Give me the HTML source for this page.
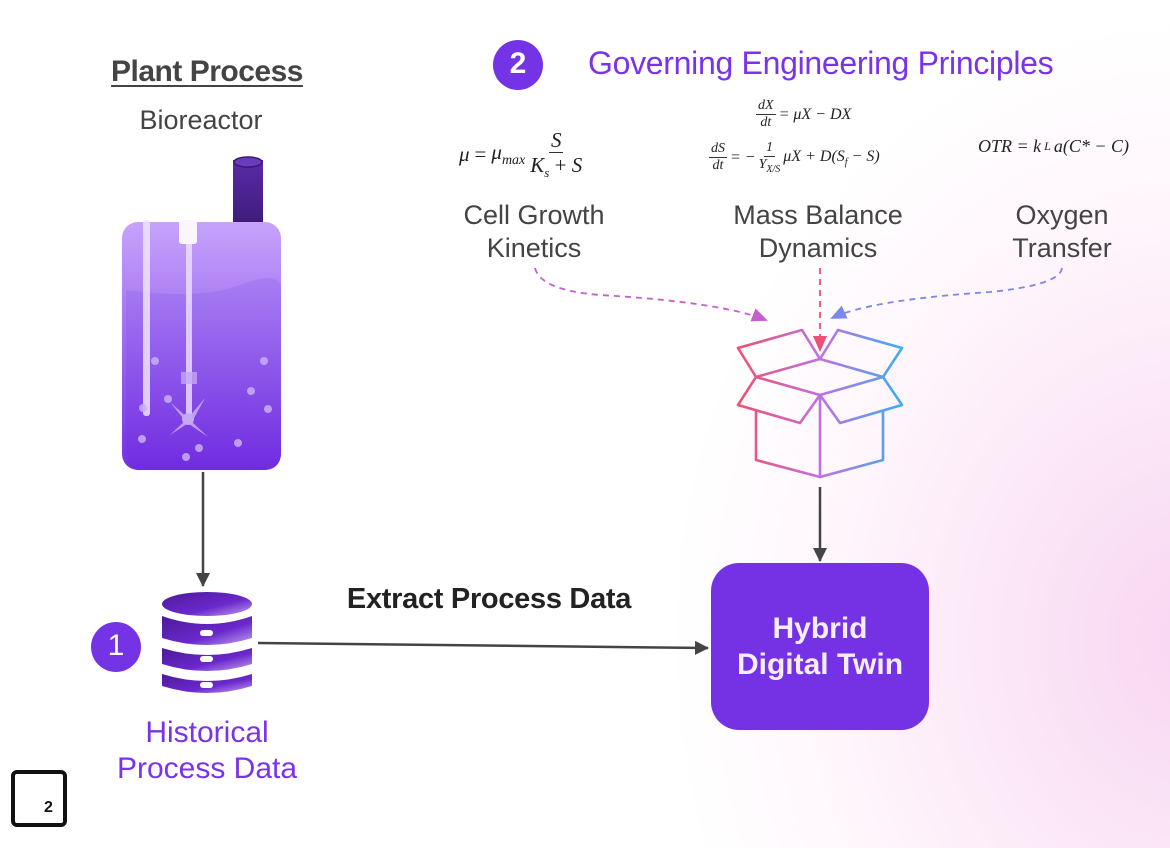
<!DOCTYPE html>
<html><head><meta charset="utf-8"><style>
html,body{margin:0;padding:0}
body{width:1170px;height:848px;overflow:hidden;position:relative;font-family:"Liberation Sans",sans-serif;
background:radial-gradient(ellipse 520px 620px at 1190px 640px,#f8d6f2 0%,#fbe6f6 35%,#fff6fc 70%,#ffffff 100%);}
.t{position:absolute;text-align:center;white-space:nowrap}
.m{position:absolute;font-family:"Liberation Serif",serif;font-style:italic;color:#222;white-space:nowrap;display:flex;align-items:center;gap:3px}
.fr{display:inline-flex;flex-direction:column;align-items:center;white-space:nowrap;line-height:1.15}
.fr .n{border-bottom:1px solid #333;padding:0 2px}
</style></head><body>
<svg width="1170" height="848" style="position:absolute;left:0;top:0">
<defs>
<linearGradient id="bio" x1="0" y1="0" x2="0" y2="1"><stop offset="0" stop-color="#c7a3fb"/><stop offset="1" stop-color="#7430e3"/></linearGradient>
<linearGradient id="liq" x1="0" y1="0" x2="0" y2="1"><stop offset="0" stop-color="#a67cf3"/><stop offset="1" stop-color="#6f2be0"/></linearGradient>
<linearGradient id="chim" x1="0" y1="0" x2="0" y2="1"><stop offset="0" stop-color="#5b2aa8"/><stop offset="1" stop-color="#3e1c7a"/></linearGradient>
<linearGradient id="db" x1="0" y1="0" x2="1" y2="1"><stop offset="0" stop-color="#4c1a9a"/><stop offset="0.6" stop-color="#6a28cc"/><stop offset="1" stop-color="#c3a2ee"/></linearGradient>
<linearGradient id="box" gradientUnits="userSpaceOnUse" x1="738" y1="0" x2="902" y2="0"><stop offset="0" stop-color="#f0506e"/><stop offset="0.5" stop-color="#c070e0"/><stop offset="1" stop-color="#3aaef0"/></linearGradient>
<marker id="ah" markerWidth="14" markerHeight="14" refX="13" refY="7" orient="auto" markerUnits="userSpaceOnUse"><path d="M0,0 L14,7 L0,14 z" fill="#444"/></marker>
<marker id="ahp" markerWidth="16" markerHeight="14" refX="14" refY="7" orient="auto" markerUnits="userSpaceOnUse"><path d="M0,0 L16,7 L0,14 z" fill="#c460cc"/></marker>
<marker id="ahr" markerWidth="16" markerHeight="14" refX="14" refY="7" orient="auto" markerUnits="userSpaceOnUse"><path d="M0,0 L16,7 L0,14 z" fill="#ee4f78"/></marker>
<marker id="ahb" markerWidth="16" markerHeight="14" refX="14" refY="7" orient="auto" markerUnits="userSpaceOnUse"><path d="M0,0 L16,7 L0,14 z" fill="#7a88ee"/></marker>
</defs>
<rect x="233" y="160" width="30" height="64" fill="url(#chim)"/>
<ellipse cx="248" cy="162" rx="14" ry="5" fill="#6a3bbf" stroke="#3a1a70" stroke-width="1.5"/>
<rect x="122" y="222" width="159" height="248" rx="16" fill="url(#bio)"/>
<path d="M126,290 Q200,300 240,285 T281,288 L281,452 Q281,470 263,470 L140,470 Q126,470 126,452 Z" fill="url(#liq)" opacity="0.9"/>
<rect x="143" y="220" width="7" height="196" rx="3" fill="#efe4ff" opacity="0.85"/>
<rect x="186" y="225" width="6" height="190" fill="#efe4ff" opacity="0.8"/>
<rect x="179" y="220" width="18" height="24" rx="3" fill="#faf6ff"/>
<rect x="181" y="372" width="16" height="12" fill="#c4a6f4" opacity="0.8"/>
<g fill="#c9aef5" opacity="0.85"><path d="M170,435 L188,418 L205,398 L193,420 Z"/><path d="M170,402 L190,420 L208,437 L186,422 Z"/></g>
<circle cx="188" cy="419" r="6" fill="#c7a8f5"/>
<g fill="#c9aff5" opacity="0.85"><circle cx="155" cy="361" r="4"/><circle cx="264" cy="361" r="4"/><circle cx="251" cy="391" r="4"/><circle cx="168" cy="399" r="4"/><circle cx="268" cy="409" r="4"/><circle cx="143" cy="408" r="4"/><circle cx="142" cy="439" r="4"/><circle cx="238" cy="443" r="4"/><circle cx="199" cy="448" r="4"/><circle cx="186" cy="457" r="4"/></g>
<line x1="203" y1="472" x2="203" y2="586" stroke="#444" stroke-width="2.5" marker-end="url(#ah)"/>
<line x1="258" y1="643" x2="708" y2="648" stroke="#444" stroke-width="2.5" marker-end="url(#ah)"/>
<line x1="820" y1="487" x2="820" y2="561" stroke="#444" stroke-width="2.5" marker-end="url(#ah)"/>
<g fill="url(#db)">
<ellipse cx="207" cy="604" rx="45" ry="12"/>
<path d="M162,616 Q207,632 252,616 L252,638 Q207,652 162,638 Z"/>
<path d="M162,648 Q207,662 252,648 L252,664 Q207,678 162,664 Z"/>
<path d="M162,674 Q207,688 252,674 L252,686 Q207,700 162,686 Z"/>
</g>
<g fill="#fff"><rect x="200" y="630" width="13" height="6" rx="3"/><rect x="200" y="656" width="13" height="6" rx="3"/><rect x="200" y="682" width="13" height="6" rx="3"/></g>
<circle cx="116" cy="647" r="25" fill="#7433e4"/>
<circle cx="518" cy="65" r="25" fill="#7433e4"/>
<rect x="13" y="772" width="52" height="53" rx="4" fill="none" stroke="#111" stroke-width="4"/>
<path d="M535,268 Q540,290 600,295 Q720,302 766,320" fill="none" stroke="#c460cc" stroke-width="1.8" stroke-dasharray="6,5" marker-end="url(#ahp)"/>
<line x1="820" y1="268" x2="820" y2="350" stroke="#ee4f78" stroke-width="1.8" stroke-dasharray="6,5" marker-end="url(#ahr)"/>
<path d="M1062,268 Q1060,285 990,292 Q870,300 832,318" fill="none" stroke="#7a88ee" stroke-width="1.8" stroke-dasharray="6,5" marker-end="url(#ahb)"/>
<g fill="none" stroke="url(#box)" stroke-width="2.6" stroke-linejoin="round">
<path d="M756,377 L738,348 L802,330 L820,359"/>
<path d="M820,359 L838,330 L902,348 L883,377"/>
<path d="M756,377 L820,359 L883,377 L820,395 Z"/>
<path d="M756,377 L738,405 L800,423 L820,395 L840,423 L902,405 L883,377"/>
<path d="M756,410 L756,460 L820,477 L883,460 L883,410"/>
<path d="M820,395 L820,477"/>
</g>
<rect x="711" y="563" width="218" height="167" rx="28" fill="#7532e5"/>
</svg>
<div class="t" style="left:60px;width:294px;top:55px;font-size:30px;font-weight:bold;color:#444;text-decoration:underline;text-decoration-thickness:2px;text-underline-offset:4px;letter-spacing:-0.5px">Plant Process</div>
<div class="t" style="left:60px;width:282px;top:105px;font-size:27px;color:#444">Bioreactor</div>
<div class="t" style="left:92px;width:48px;top:629px;font-size:30px;color:#fff">1</div>
<div class="t" style="left:494px;width:48px;top:47px;font-size:30px;font-weight:bold;color:#fff">2</div>
<div class="t" style="left:588px;top:45px;font-size:32px;color:#7a33ea;letter-spacing:-0.3px">Governing Engineering Principles</div>
<div class="t" style="left:60px;width:294px;top:715px;font-size:30px;line-height:36px;color:#7a33ea">Historical<br>Process Data</div>
<div class="t" style="left:44px;top:799px;font-size:16px;font-weight:bold;color:#111">2</div>
<div class="t" style="left:330px;width:318px;top:583px;font-size:29px;font-weight:bold;color:#222;letter-spacing:-0.3px">Extract Process Data</div>
<div class="t" style="left:711px;width:218px;top:611px;font-size:30px;font-weight:bold;line-height:36px;color:#f4eefc">Hybrid<br>Digital Twin</div>
<div class="t" style="left:420px;width:228px;top:199px;font-size:27px;line-height:33px;color:#444">Cell Growth<br>Kinetics</div>
<div class="t" style="left:700px;width:236px;top:199px;font-size:27px;line-height:33px;color:#444">Mass Balance<br>Dynamics</div>
<div class="t" style="left:962px;width:200px;top:199px;font-size:27px;line-height:33px;color:#444">Oxygen<br>Transfer</div>
<div class="m" style="left:459px;top:128px;font-size:21px;gap:5px">μ <span style="font-style:normal">=</span> <span>μ<sub style="font-size:14px">max</sub></span> <span class="fr"><span class="n">S</span><span>K<sub style="font-size:13px">s</sub> <span style="font-style:normal">+</span> S</span></span></div>
<div class="m" style="left:756px;top:98px;font-size:16px"><span class="fr" style="font-size:14px"><span class="n">dX</span><span>dt</span></span> <span>= μX − DX</span></div>
<div class="m" style="left:709px;top:140px;font-size:16px"><span class="fr" style="font-size:14px"><span class="n">dS</span><span>dt</span></span> <span>= −</span><span class="fr" style="font-size:14px"><span class="n">1</span><span>Y<sub style="font-size:10px">X/S</sub></span></span><span>μX + D(S<sub style="font-size:10px">f</sub> − S)</span></div>
<div class="m" style="left:978px;top:136px;font-size:18px">OTR = k<sub style="font-size:12px">L</sub>a(C* − C)</div>
</body></html>
